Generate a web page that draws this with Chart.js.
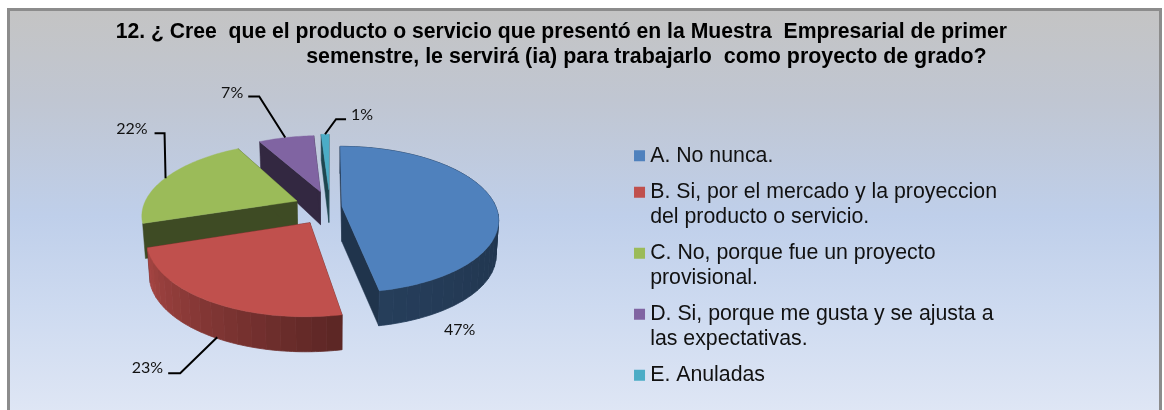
<!DOCTYPE html>
<html>
<head>
    <meta charset="utf-8">
    <title>Proyecto de grado</title>
    <script src="https://cdnjs.cloudflare.com/ajax/libs/Chart.js/4.4.1/chart.umd.min.js"></script>
    <style>
        html, body { margin: 0; padding: 0; background: #fff; overflow: hidden; }
        #frame {
            position: absolute; left: 7px; top: 8px; width: 1149px; height: 410px;
            border: 3px solid #8c8c8c;
            background: linear-gradient(to bottom, #c4c4c4 0%, #c0c6d2 22%, #bfcfea 50%, #cddaf0 72%, #e0e7f5 100%);
        }
        #pieChart { position: absolute; left: 0; top: 0; }
    </style>
</head>

<body>
    <div id="frame"></div>
    <canvas id="pieChart" width="1164" height="410"></canvas>

    <script>
        var titleLines = [
            "   12. ¿ Cree  que el producto o servicio que presentó en la Muestra  Empresarial de primer",
            " ".repeat(35) + "semenstre, le servirá (ia) para trabajarlo  como proyecto de grado?"
        ];
        var categories = [
            ["A. No nunca."],
            ["B. Si, por el mercado y la proyeccion", "del producto o servicio."],
            ["C. No, porque fue un proyecto", "provisional."],
            ["D. Si, porque me gusta y se ajusta a", "las expectativas."],
            ["E. Anuladas"]
        ];
        var percentages = [47, 23, 22, 7, 1];
        var sliceColors = ["#4f81bd", "#c0504d", "#9bbb59", "#8064a2", "#4bacc6"];
        var explode = [12, 38, 36, 36, 39];

        // Excel style tilted pie: each arc is projected onto a plane
        var view = { cx: 330, cy: 207, rx: 154, ry: 71, tilt: 0.178, depth: 35 };

        // leader lines, relative to the rim of each slice
        var leaders = [
            { nudge: [0, 0], text: [-17, 130] },
            { nudge: [8, 36], elbow: [-37, 36], end: [-49, 36], text: [-54, 31] },
            { nudge: [-1, 1], elbow: [-1, -45], end: [-11, -45], text: [-18, -49] },
            { nudge: [-1, 0], elbow: [-26, -41], end: [-37, -41], text: [-42, -45] },
            { nudge: [0, 0], elbow: [11, -15], end: [21, -15], text: [26, -19] }
        ];

        function project(angle, radius, offset, midAngle) {
            var u = Math.cos(angle) * radius + Math.cos(midAngle) * offset;
            var v = Math.sin(angle) * radius + Math.sin(midAngle) * offset;
            var w = 1 - view.tilt * v;
            return {
                x: view.cx + view.rx * u / w,
                y: view.cy + view.ry * v / w,
                d: view.depth / Math.max(1, Math.pow(w, 1.5))
            };
        }

        function shade(color, f) {
            var n = parseInt(color.slice(1), 16);
            return "rgb(" + Math.round((n >> 16) * f) + "," + Math.round(((n >> 8) & 255) * f) + "," + Math.round((n & 255) * f) + ")";
        }

        // side wall brightness by clockwise angle from the top
        function wallShade(deg) {
            if (deg < 90) return 0.4;
            if (deg < 169) return 0.4 + 0.08 * (deg - 90) / 79;
            return 0.47 + 0.4 * (deg - 169) / 83;
        }

        function fillPoly(ctx, points, color, line) {
            ctx.beginPath();
            points.forEach(function(p, i) {
                if (i === 0) ctx.moveTo(p.x, p.y); else ctx.lineTo(p.x, p.y);
            });
            ctx.closePath();
            ctx.fillStyle = color;
            ctx.strokeStyle = color;
            ctx.lineWidth = line;
            ctx.fill();
            ctx.stroke();
        }

        function down(p) {
            return { x: p.x + (view.cx - p.x) * 0.015, y: p.y + p.d };
        }

        function drawSlice(ctx, arc, color) {
            var mid = (arc.startAngle + arc.endAngle) / 2;
            var off = arc.options.offset / view.rx;
            var span = arc.endAngle - arc.startAngle;
            var steps = Math.max(2, Math.ceil(span / 0.02));
            var apex = project(0, 0, off, mid);
            var rim = [];
            for (var i = 0; i <= steps; i++) {
                rim.push(project(arc.startAngle + span * i / steps, 1, off, mid));
            }
            var first = rim[0], last = rim[rim.length - 1];

            fillPoly(ctx, [apex, first, down(first), down(apex)], shade(color, 0.4), 0.5);
            fillPoly(ctx, [apex, last, down(last), down(apex)], shade(color, 0.4), 0.5);

            // outer wall in wide facets, the back of the pie stays hidden
            var facet = 4;
            for (var j = 0; j < steps; j += facet) {
                var stop = Math.min(j + facet, steps);
                var deg = (arc.startAngle + span * (j + stop) / 2 / steps + Math.PI / 2) * 180 / Math.PI;
                if (deg > 250) continue;
                var top = rim.slice(j, stop + 1);
                var bottom = top.map(down).reverse();
                fillPoly(ctx, top.concat(bottom), shade(color, wallShade(deg)), 0.8);
            }
            fillPoly(ctx, [apex].concat(rim), color, 0.4);
        }

        function drawLabels(ctx, arcs) {
            ctx.font = "16px Lato";
            ctx.textBaseline = "middle";
            arcs.forEach(function(arc, i) {
                var mid = (arc.startAngle + arc.endAngle) / 2;
                var text = percentages[i] + "%";
                var anchor = project(mid, 1, arc.options.offset / view.rx, mid);
                var l = leaders[i];
                var x = anchor.x + l.nudge[0], y = anchor.y + l.nudge[1];
                if (l.elbow) {
                    ctx.beginPath();
                    ctx.moveTo(x, y);
                    ctx.lineTo(x + l.elbow[0], y + l.elbow[1]);
                    ctx.lineTo(x + l.end[0], y + l.end[1]);
                    ctx.strokeStyle = "#000";
                    ctx.lineWidth = 2;
                    ctx.stroke();
                }
                ctx.fillStyle = "#111";
                ctx.textAlign = l.text[0] > 0 ? "left" : "right";
                ctx.fillText(text, x + l.text[0], y + l.text[1]);
            });
        }

        var tiltedPie = {
            id: "tiltedPie",
            beforeDatasetsDraw: function(chart) {
                var ctx = chart.ctx;
                var arcs = chart.getDatasetMeta(0).data;
                ctx.save();
                [4, 3, 2, 1, 0].forEach(function(i) {
                    drawSlice(ctx, arcs[i], sliceColors[i]);
                });
                drawLabels(ctx, arcs);
                ctx.restore();
                return false;
            }
        };

        new Chart("pieChart", {
            type: "pie",
            plugins: [tiltedPie],
            data: {
                labels: categories,
                datasets: [{
                    data: percentages,
                    backgroundColor: sliceColors,
                    borderWidth: 0,
                    offset: explode
                }]
            },
            options: {
                responsive: false,
                animation: false,
                layout: { padding: { left: 98, right: 157, top: 0, bottom: 0 } },
                plugins: {
                    tooltip: { enabled: false },
                    title: {
                        display: true,
                        align: "start",
                        text: titleLines,
                        color: "#000",
                        font: { family: "'Liberation Sans'", size: 21.42, weight: "bold", lineHeight: 1.17 },
                        padding: { top: 20, bottom: 63 }
                    },
                    legend: {
                        position: "right",
                        align: "start",
                        fullSize: false,
                        labels: {
                            color: "#111",
                            font: { family: "'Liberation Sans'", size: 21.3, lineHeight: 1.15 },
                            usePointStyle: true,
                            pointStyle: "rect",
                            boxWidth: 0.01,
                            boxHeight: 11,
                            padding: 12
                        }
                    }
                }
            }
        });
    </script>
</body>
</html>
